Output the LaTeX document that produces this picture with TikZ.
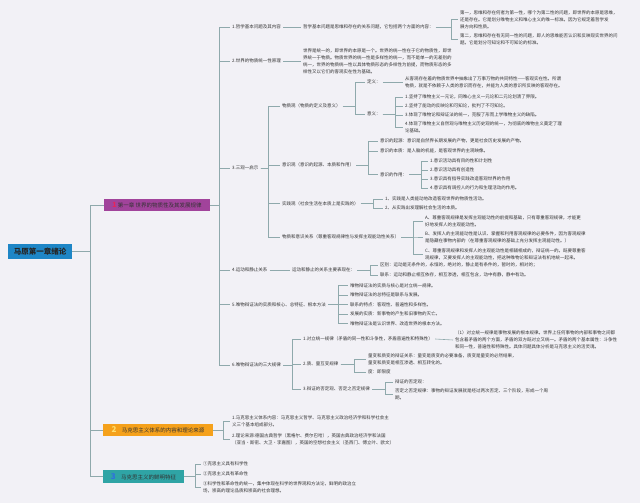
\documentclass[tikz,border=0pt]{standalone}
\usepackage{fontspec}
\setmainfont{Noto Sans CJK SC}
\definecolor{bgcol}{HTML}{F2F1F6}
\definecolor{linecol}{HTML}{8FA9AC}
\definecolor{textcol}{HTML}{333333}
\definecolor{rootblue}{HTML}{1E86C6}
\definecolor{topicpurple}{HTML}{A1439B}
\definecolor{topicorange}{HTML}{F5A11B}
\definecolor{topicteal}{HTML}{2FA4A5}
\definecolor{numred}{HTML}{E8245A}
\definecolor{numyellow}{HTML}{FFE070}
\definecolor{numblue}{HTML}{2F6FE0}
\begin{document}
\begin{tikzpicture}[x=1pt, y=-1pt,
    conn/.style={draw=linecol, line width=0.6pt},
    txt/.style={anchor=west, inner sep=2pt, align=left, text=textcol, font=\fontsize{4.5}{7}\selectfont},
    topic/.style={rectangle, inner sep=0pt, minimum height=12pt, text=textcol, font=\fontsize{5.5}{6}\selectfont}]
    \useasboundingbox (0,0) rectangle (640,503);
    \fill[bgcol] (0,0) rectangle (640,503);
    % Root and main topics
    \node[topic, fill=rootblue, minimum width=64pt, minimum height=15pt, text=black!85, font=\fontsize{7.5}{9}\selectfont\bfseries] (root) at (40,251.5) {马原第一章绪论};
    \node[topic, fill=topicpurple, minimum width=106pt] (b1) at (157,205) {{\color{numred}\fontsize{7}{7}\selectfont\bfseries 1}\ 第一章 世界的物质性及其发展规律};
    \node[topic, fill=topicorange, minimum width=110pt] (b2) at (158,430) {{\color{numyellow}\fontsize{8}{8}\selectfont\bfseries 2}\quad 马克思主义体系的内容和理论来源};
    \node[topic, fill=topicteal, minimum width=81pt, minimum height=13pt] (b3) at (143.5,476.5) {{\color{numblue}\fontsize{8}{8}\selectfont\bfseries 3}\quad 马克思主义的鲜明特征};
    \draw[conn] (root.east) -- ++(18,0) |- (b1.west);
    \draw[conn] (root.east) -- ++(18,0) |- (b2.west);
    \draw[conn] (root.east) -- ++(18,0) |- (b3.west);
    % Branch 1
    \node[txt] (c1) at (230,27) {1.哲学基本问题及其内容};
    \node[txt] (c2) at (230,61) {2.世界的物质统一性原理};
    \node[txt] (c3) at (230,168) {3.三观一启示};
    \node[txt] (c4) at (230,270) {4.运动和静止关系};
    \node[txt] (c5) at (230,304.5) {5.唯物辩证法的实质和核心、总特征、根本方法};
    \node[txt] (c6) at (230,365) {6.唯物辩证法的三大规律};
    \foreach \c in {c1,c2,c3,c4,c5,c6}
        \draw[conn] (b1.east) -- ++(9,0) |- (\c.west);
    % 1. basic question
    \node[txt] (d1) at (301,27) {哲学基本问题是思维和存在的关系问题，它包括两个方面的内容：};
    \node[txt] (e1) at (458,19.5) {第一，思维和存在何者为第一性，哪个为第二性的问题，即世界的本原是思维，\\还是存在。它是划分唯物主义和唯心主义的唯一标准。因为它规定着哲学发\\展方向和性质。};
    \node[txt] (e2) at (458,39) {第二，思维和存在有无同一性的问题，即人的思维能否认识和反映现实世界的问\\题。它是划分可知论和不可知论的标准。};
    \draw[conn] (c1.east) -- (d1.west);
    \draw[conn] (d1.east) -- ++(15,0) |- (e1.west);
    \draw[conn] (d1.east) -- ++(15,0) |- (e2.west);
    % 2. unity of the world
    \node[txt] (d2) at (301,61) {世界是统一的，即世界的本原是一个。世界的统一性在于它的物质性，即世\\界统一于物质。物质世界的统一性是多样性的统一，而不是单一的无差别的\\统一，世界的物质统一性以具体物质形态的多样性为前提，而物质形态的多\\样性又以它们的客观实在性为基础。};
    \draw[conn] (c2.east) -- (d2.west);
    % 3. three views
    \node[txt] (m1) at (280,106) {物质观（物质的定义及意义）};
    \node[txt] (m2) at (280,165) {意识观（意识的起源、本质和作用）};
    \node[txt] (m3) at (280,203.5) {实践观（社会生活在本质上是实践的）};
    \node[txt] (m4) at (280,237) {物质和意识关系（尊重客观规律性与发挥主观能动性关系）};
    \foreach \m in {m1,m2,m3,m4}
        \draw[conn] (c3.east) -- ++(8,0) |- (\m.west);
    % matter
    \node[txt] (n1) at (365,82) {定义：};
    \node[txt] (n1t) at (403,82) {从客观存在着的物质世界中抽象出了万事万物的共同特性——客观实在性。所谓\\物质，就是不依赖于人类的意识而存在，并能为人类的意识所反映的客观存在。};
    \node[txt] (n2) at (365,114) {意义：};
    \node[txt] (i1) at (403,97) {1.坚持了唯物主义一元论，同唯心主义一元论和二元论划清了界限。};
    \node[txt] (i2) at (403,106) {2.坚持了能动的反映论和可知论，批判了不可知论。};
    \node[txt] (i3) at (403,115) {3.体现了唯物论和辩证法的统一，克服了形而上学唯物主义的缺陷。};
    \node[txt] (i4) at (403,127.5) {4.体现了唯物主义自然观与唯物主义历史观的统一，为彻底的唯物主义奠定了理\\论基础。};
    \draw[conn] (m1.east) -- ++(12,0) |- (n1.west);
    \draw[conn] (m1.east) -- ++(12,0) |- (n2.west);
    \draw[conn] (n1.east) -- (n1t.west);
    \foreach \i in {i1,i2,i3,i4}
        \draw[conn] (n2.east) -- ++(12,0) |- (\i.west);
    % consciousness
    \node[txt] (o1) at (378,141) {意识的起源：意识是自然界长期发展的产物，更是社会历史发展的产物。};
    \node[txt] (o2) at (378,151) {意识的本质：是人脑的机能，是客观世界的主观映像。};
    \node[txt] (o3) at (378,174.5) {意识的作用：};
    \node[txt] (p1) at (428,161) {1.意识活动具有目的性和计划性};
    \node[txt] (p2) at (428,170) {2.意识活动具有创造性};
    \node[txt] (p3) at (428,179) {3.意识具有指导实践改造客观世界的作用};
    \node[txt] (p4) at (428,188) {4.意识具有调控人的行为和生理活动的作用。};
    \foreach \o in {o1,o2,o3}
        \draw[conn] (m2.east) -- ++(12,0) |- (\o.west);
    \foreach \p in {p1,p2,p3,p4}
        \draw[conn] (o3.east) -- ++(12,0) |- (\p.west);
    % practice
    \node[txt] (q1) at (383,199) {1、实践是人类能动地改造客观世界的物质性活动。};
    \node[txt] (q2) at (383,208) {2、从实践出发理解社会生活的本质。};
    \draw[conn] (m3.east) -- ++(12,0) |- (q1.west);
    \draw[conn] (m3.east) -- ++(12,0) |- (q2.west);
    % matter and consciousness
    \node[txt] (r1) at (423,221.5) {A、尊重客观规律是发挥主观能动性的前提和基础，只有尊重客观规律，才能更\\好地发挥人的主观能动性。};
    \node[txt] (r2) at (423,237) {B、发挥人的主观能动性是认识、掌握和利用客观规律的必要条件，因为客观规律\\是隐藏在事物内部的（在尊重客观规律的基础上充分发挥主观能动性。）};
    \node[txt] (r3) at (423,254) {C、尊重客观规律和发挥人的主观能动性是相辅相成的，辩证统一的。既要尊重客\\观规律，又要发挥人的主观能动性，把这种唯物论和辩证法有机地统一起来。};
    \foreach \r in {r1,r2,r3}
        \draw[conn] (m4.east) -- ++(12,0) |- (\r.west);
    % 4. motion and rest
    \node[txt] (s) at (290,270) {运动和静止的关系主要表现在：};
    \node[txt] (t1) at (378,265) {区别：运动是无条件的，永恒的，绝对的，静止是有条件的，暂时的，相对的；};
    \node[txt] (t2) at (378,275) {联系：运动和静止相互依存，相互渗透，相互包含，动中有静，静中有动。};
    \draw[conn] (c4.east) -- (s.west);
    \draw[conn] (s.east) -- ++(13,0) |- (t1.west);
    \draw[conn] (s.east) -- ++(13,0) |- (t2.west);
    % 5. essence of dialectics
    \node[txt] (u1) at (348,285.5) {唯物辩证法的实质与核心是对立统一规律。};
    \node[txt] (u2) at (348,295) {唯物辩证法的总特征是联系与发展。};
    \node[txt] (u3) at (348,304.5) {联系的特点：客观性、普遍性和多样性。};
    \node[txt] (u4) at (348,314) {发展的实质：新事物的产生和旧事物的灭亡。};
    \node[txt] (u5) at (348,323.5) {唯物辩证法是认识世界、改造世界的根本方法。};
    \foreach \u in {u1,u2,u3,u4,u5}
        \draw[conn] (c5.east) -- ++(10,0) |- (\u.west);
    % 6. three laws
    \node[txt] (v1) at (301,339) {1.对立统一规律（矛盾的同一性和斗争性，矛盾普遍性和特殊性）};
    \node[txt] (v2) at (301,364) {2.质、量互变规律};
    \node[txt] (v3) at (301,389) {3.辩证的否定观、否定之否定规律};
    \foreach \v in {v1,v2,v3}
        \draw[conn] (c6.east) -- ++(9,0) |- (\v.west);
    \node[txt] (w1) at (453,340) {（1）对立统一规律是事物发展的根本规律。世界上任何事物的内部和事物之间都\\包含着矛盾的两个方面，矛盾的双方既对立又统一。矛盾的两个基本属性：斗争性\\和同一性，普遍性和特殊性。具体问题具体分析是马克思主义的活灵魂。};
    \draw[conn] (v1.east) -- (w1.west);
    \node[txt] (x1) at (366,359.5) {量变和质变的辩证关系：量变是质变的必要准备，质变是量变的必然结果，\\量变和质变是相互渗透、相互转化的。};
    \node[txt] (x2) at (366,372) {度：即限度};
    \draw[conn] (v2.east) -- ++(14,0) |- (x1.west);
    \draw[conn] (v2.east) -- ++(14,0) |- (x2.west);
    \node[txt] (y1) at (393,382) {辩证的否定观：};
    \node[txt] (y2) at (393,394) {否定之否定规律：事物的辩证发展就是经过两次否定、三个阶段，形成一个周\\期。};
    \draw[conn] (v3.east) -- ++(13,0) |- (y1.west);
    \draw[conn] (v3.east) -- ++(13,0) |- (y2.west);
    % Branch 2
    \node[txt] (z1) at (230,421.5) {1.马克思主义体系内容：马克思主义哲学、马克思主义政治经济学和科学社会主\\义三个基本组成部分。};
    \node[txt] (z2) at (230,439.5) {2.理论来源:德国古典哲学（黑格尔、费尔巴哈），英国古典政治经济学和法国\\（亚当·斯密、大卫·李嘉图），英国的空想社会主义（圣西门、傅立叶、欧文）};
    \draw[conn] (b2.east) -- ++(10,0) |- (z1.west);
    \draw[conn] (b2.east) -- ++(10,0) |- (z2.west);
    % Branch 3
    \node[txt] (g1) at (201,464) {①克思主义具有科学性};
    \node[txt] (g2) at (201,474) {②克思主义具有革命性};
    \node[txt] (g3) at (201,487.5) {③科学性和革命性的统一，集中体现在科学的世界观和方法论，鲜明的政治立\\场，崇高的理论品质和崇高的社会理想。};
    \foreach \g in {g1,g2,g3}
        \draw[conn] (b3.east) -- ++(11,0) |- (\g.west);
\end{tikzpicture}
\end{document}
